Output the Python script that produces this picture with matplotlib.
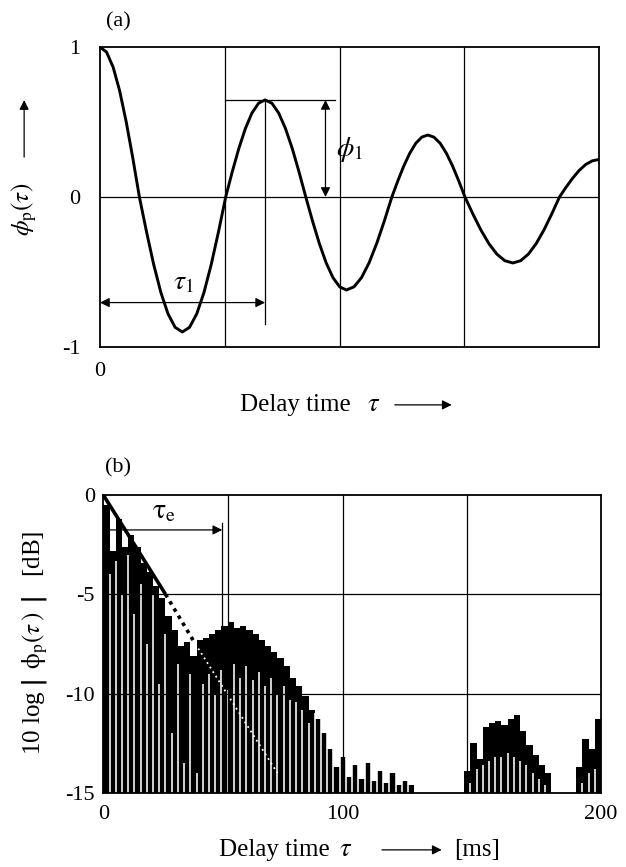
import matplotlib
matplotlib.use('Agg')
import matplotlib.pyplot as plt

plt.rcParams['font.family'] = ['Liberation Serif', 'DejaVu Sans']
plt.rcParams['mathtext.fontset'] = 'stix'

# ---- panel (a): normalized ACF ----
tau_a = [0, 2.63, 5.27, 7.9, 10.53, 13.17, 15.8,
         18.67, 21.53, 24.4, 27.27, 30.13, 33.0,
         35.9, 38.8, 41.7, 44.6, 47.5, 50.4,
         53.03, 55.67, 58.3, 60.93, 63.57, 66.2,
         68.92, 71.63, 74.35, 77.07, 79.78, 82.5,
         85.22, 87.93, 90.65, 93.37, 96.08, 98.8,
         101.83, 104.87, 107.9, 110.93, 113.97, 117.0,
         119.4, 121.8, 124.2, 126.6, 129.0, 131.4,
         133.88, 136.37, 138.85, 141.33, 143.82, 146.3,
         149.5, 152.7, 155.9, 159.1, 162.3, 165.5,
         168.62, 171.73, 174.85, 177.97, 181.08, 184.2,
         186.83, 189.47, 192.1, 194.73, 197.37, 200.0]
phi_a = [1.0, 0.966, 0.866, 0.707, 0.5, 0.259, 0.0,
         -0.233, -0.45, -0.636, -0.779, -0.869, -0.9,
         -0.869, -0.779, -0.636, -0.45, -0.233, 0.0,
         0.168, 0.324, 0.457, 0.56, 0.625, 0.647,
         0.625, 0.56, 0.457, 0.324, 0.168, 0.0,
         -0.161, -0.31, -0.438, -0.537, -0.599, -0.62,
         -0.599, -0.537, -0.438, -0.31, -0.161, 0.0,
         0.107, 0.207, 0.292, 0.358, 0.399, 0.413,
         0.399, 0.358, 0.292, 0.207, 0.107, 0.0,
         -0.114, -0.22, -0.311, -0.381, -0.425, -0.44,
         -0.425, -0.381, -0.311, -0.22, -0.114, 0.0,
         0.065, 0.125, 0.177, 0.217, 0.241, 0.25]
grid_x = [50.3, 96.2, 146.0]
tau1 = 66.2
phi1 = 0.647

# ---- panel (b): 10 log |ACF| in 2.5 ms slots ----
slot_ms = 2.5
tops_db = [-0.5, -2.8, -1.2, -2.6, -2.0, -2.6, -3.4, -3.9, -4.6, -5.2,
           -6.1, -6.8, -7.6, -7.4, -8.1, -7.3, -7.2, -7.0, -6.8, -6.6,
           -6.4, -6.7, -6.6, -6.8, -7.0, -7.3, -7.6, -7.9, -8.2, -8.6,
           -9.2, -9.6, -10.1, -10.8, -11.3, -12.0, -12.8, -13.7, -13.2, -14.2,
           -13.6, -14.3, -13.5, -14.4, -13.9, -14.5, -14.0, -14.6, -14.4, -14.6,
           -15, -15, -15, -15, -15, -15, -15, -15, -13.9, -12.5,
           -13.3, -11.7, -11.5, -11.4, -11.6, -11.3, -11.1, -11.9, -12.6, -13.1,
           -13.6, -14.0, -15, -15, -15, -15, -13.7, -12.3, -12.8, -11.3]
# white gaps between slots (height reached from the -15 dB floor)
gaps_db = [-15, -4.0, -3.3, -5.0, -3.0, -6.0, -4.5, -7.5, -5.0, -9.5,
           -7.0, -12.0, -8.5, -13.5, -9.0, -14.0, -9.5, -9.0, -10.0, -8.8,
           -9.8, -8.5, -9.2, -8.6, -9.3, -8.9, -9.6, -9.2, -10.0, -9.6,
           -10.3, -10.4, -10.8, -11.5, -11.0, -11.0, -11.0, -11.0, -11.0, -11.0,
           -11.0, -11.0, -11.0, -11.0, -11.0, -11.0, -11.0, -11.0, -11.0, -11.0,
           -15, -15, -15, -15, -15, -15, -15, -15, -15, -14.5,
           -13.8, -13.6, -13.4, -13.2, -13.2, -13.0, -13.2, -13.4, -13.6, -14.0,
           -14.3, -14.6, -15, -15, -15, -15, -15, -14.5, -14.0, -13.8]
decay_x = [0, 25.0]
decay_y = [0, -5.0]
decay_ext_x = [25.0, 37.0]
decay_ext_y = [-5.0, -7.5]
tau_e = 47.8

fig = plt.figure(figsize=(6.26, 8.67), dpi=100)
ax_a = fig.add_axes([0.1597, 0.5998, 0.797, 0.346])
ax_b = fig.add_axes([0.165, 0.0854, 0.795, 0.3437])

arrow_kw = dict(color='k', lw=0.9, mutation_scale=14, shrinkA=0, shrinkB=0)

# panel (a)
ax_a.plot(tau_a, phi_a, color='k', lw=2.1, zorder=3)
for g in grid_x:
    ax_a.axvline(g, color='k', lw=0.9)
ax_a.axhline(0, color='k', lw=0.9)
ax_a.set_xlim(0, 200)
ax_a.set_ylim(-1, 1)
ax_a.set_xticks([0])
ax_a.set_yticks([-1, 0, 1])
ax_a.set_yticklabels(['-1', '0', '1'])
ax_a.tick_params(length=0, labelsize=16)
ax_a.tick_params(axis='y', pad=14)
ax_a.tick_params(axis='x', pad=11)
for s in ax_a.spines.values():
    s.set_linewidth(1.3)

ax_a.plot([grid_x[0], 94.4], [phi1, phi1], color='k', lw=0.9)
ax_a.plot([tau1, tau1], [phi1, -0.85], color='k', lw=0.9)
ax_a.annotate('', xy=(90.4, 0.0), xytext=(90.4, phi1),
              arrowprops=dict(arrowstyle='<|-|>', **arrow_kw))
ax_a.annotate('', xy=(0, -0.704), xytext=(tau1, -0.704),
              arrowprops=dict(arrowstyle='<|-|>', **arrow_kw))
ax_a.text(94.5, 0.318, r'$\phi_1$', fontsize=20, va='center')
ax_a.text(33.6, -0.571, r'$\tau_1$', fontsize=20, ha='center', va='center')
ax_a.text(0.037, 1.083, '(a)', fontsize=16, ha='center', va='center',
          transform=ax_a.transAxes)

ax_a.text(-0.152, 0.457, r'$\phi_\mathrm{p}(\tau)$', fontsize=18, rotation=90,
          ha='center', va='center', transform=ax_a.transAxes)
ax_a.annotate('', xy=(-0.152, 0.823), xytext=(-0.152, 0.633), xycoords='axes fraction',
              arrowprops=dict(arrowstyle='-|>', **arrow_kw), annotation_clip=False)
ax_a.text(0.2806, -0.193, 'Delay time', fontsize=18, va='center', transform=ax_a.transAxes)
ax_a.text(0.535, -0.193, r'$\tau$', fontsize=19, va='center', transform=ax_a.transAxes)
ax_a.annotate('', xy=(0.705, -0.193), xytext=(0.591, -0.193), xycoords='axes fraction',
              arrowprops=dict(arrowstyle='-|>', **arrow_kw), annotation_clip=False)

# panel (b)
floor = -15
centers = [slot_ms * (i + 0.5) for i in range(len(tops_db))]
edges = [slot_ms * i for i in range(len(gaps_db))]
ax_b.bar(centers, [t - floor for t in tops_db], bottom=floor, width=slot_ms,
         color='k', linewidth=0, zorder=2)
ax_b.vlines(edges, floor, gaps_db, color='white', lw=1.15, zorder=3)
ax_b.plot([decay_ext_x[1], 70], [decay_ext_y[1], -14], color='white', lw=1.3,
          ls=(0, (1, 2)), zorder=3)

for g in grid_x:
    ax_b.axvline(g, color='k', lw=0.9, zorder=4)
for g in [-5, -10]:
    ax_b.axhline(g, color='k', lw=0.9, zorder=4)
ax_b.plot(decay_x, decay_y, color='k', lw=2.6, zorder=5, solid_capstyle='butt')
ax_b.plot(decay_ext_x, decay_ext_y, color='k', lw=2.6, ls=(0, (1, 1.3)), zorder=5)
ax_b.plot([tau_e, tau_e], [-1.42, -7.1], color='k', lw=0.9, zorder=5)
ax_b.annotate('', xy=(tau_e, -1.76), xytext=(0, -1.76),
              arrowprops=dict(arrowstyle='-|>', **arrow_kw), zorder=6)
ax_b.text(24.2, -0.84, r'$\mathrm{\tau_e}$', fontsize=20, ha='center', va='center')

ax_b.set_xlim(0, 200)
ax_b.set_ylim(-15, 0)
ax_b.set_xticks([0, grid_x[1], 200])
ax_b.set_xticklabels(['0', '100', '200'])
ax_b.set_yticks([-15, -10, -5, 0])
ax_b.set_yticklabels(['-15', '-10', '-5', '0'])
ax_b.tick_params(length=0, labelsize=16)
ax_b.tick_params(axis='y', pad=6)
ax_b.tick_params(axis='x', pad=9)
for s in ax_b.spines.values():
    s.set_linewidth(1.3)
    s.set_zorder(6)

ax_b.text(0.03, 1.09, '(b)', fontsize=16, ha='center', va='center',
          transform=ax_b.transAxes)
ax_b.text(-0.137, 0.503,
          r'10 log $\left|\;\;\mathrm{\phi_p}(\tau\,)\;\;\right|$   [dB]',
          fontsize=18, rotation=90, ha='center', va='center', transform=ax_b.transAxes)
ax_b.text(0.232, -0.191, 'Delay time', fontsize=18, va='center', transform=ax_b.transAxes)
ax_b.text(0.474, -0.191, r'$\tau$', fontsize=19, va='center', transform=ax_b.transAxes)
ax_b.annotate('', xy=(0.68, -0.191), xytext=(0.56, -0.191), xycoords='axes fraction',
              arrowprops=dict(arrowstyle='-|>', **arrow_kw), annotation_clip=False)
ax_b.text(0.704, -0.191, '[ms]', fontsize=18, va='center', transform=ax_b.transAxes)

fig.savefig('out.png', dpi=100)
